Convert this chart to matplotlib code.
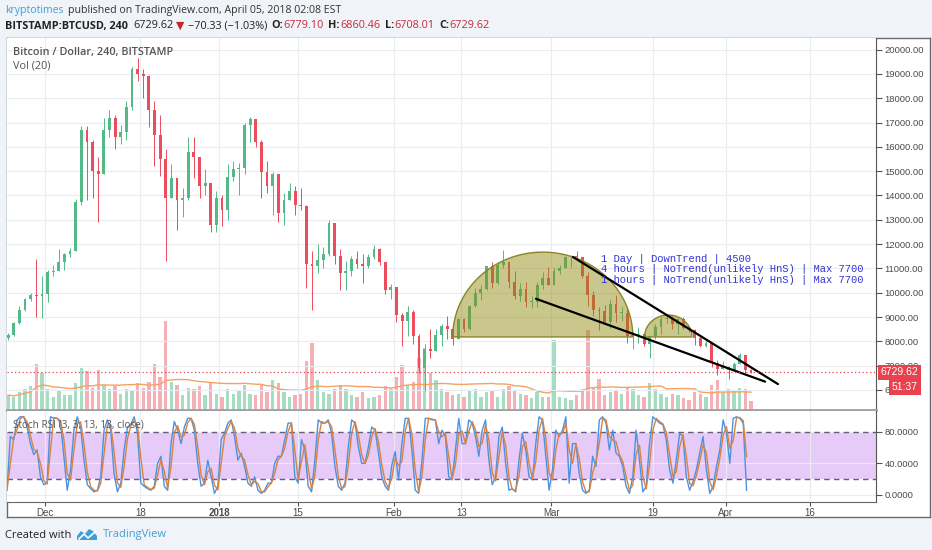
import numpy as np
import pandas as pd
import matplotlib
matplotlib.use('Agg')
import matplotlib.pyplot as plt
import matplotlib.transforms as mtrans
from matplotlib.patches import Polygon

W, H = 932, 550
BASE = pd.Timestamp('2018-01-01')


def days(s):
    return (pd.Timestamp(s) - BASE) / pd.Timedelta(days=1)


# ---- daily candles (drawn at midday), Nov 24 2017 .. Apr 5 2018 ----
dates = pd.date_range('2017-11-24 12:00', '2018-04-05 12:00', freq='D')
first_open = 8150
closes = [8250, 8750, 9300, 9750, 9900, 9850, 9950,
          10850, 10900, 11250, 11600, 11700, 13750, 16700, 16200, 15000, 14900,
          16700, 17200, 16400, 16600, 17650, 19200, 19000, 18900, 17500, 16500,
          15500, 13900, 14700, 13800, 13900, 15800, 15600, 14400, 14500, 12800, 13900,
          13400, 14750, 15100, 15150, 16900, 17150, 16200, 14950, 14400, 14900,
          13300, 13800, 14200, 13600, 13550, 11200, 11100, 11350, 11600, 12850,
          11500, 10800, 10900, 11400, 11200, 11100, 11450, 11800, 11250, 10100, 10250,
          9100, 8850, 9200, 8200, 6900, 7700, 7600, 8250, 8650, 8500,
          8100, 8900, 8500, 9450, 10000, 10150, 11100, 10400, 11150, 11250,
          10450, 9850, 10150, 9600, 9600, 10300, 10600, 10300,
          10900, 11000, 11450, 11500, 11450, 10700, 9900, 9300, 9250, 8800,
          9550, 9150, 9150, 8200, 8250, 8300, 7870, 8200, 8600, 8900,
          8900, 8700, 8900, 8550, 8450, 8150, 7800, 7950, 7100, 6850, 6930,
          6800, 7050, 7420, 6800, 6729.62]
highs = [8350, 8800, 9450, 9800, 10000, 11400, 10700,
         10950, 11150, 11800, 11650, 11850, 13850, 16850, 16850, 16300, 15600,
         17200, 17500, 17300, 16900, 17900, 19300, 19650, 19200, 18950, 17900,
         17300, 15900, 15300, 14700, 14300, 16400, 16400, 15600, 15100, 14500, 14200,
         14000, 15300, 15400, 15350, 17000, 17250, 17100, 16300, 15400, 14950,
         14900, 14100, 14500, 14400, 14300, 13600, 11700, 12000, 11900, 13000,
         12850, 11800, 11300, 11500, 11700, 11600, 11600, 11950, 11850, 11250, 10350,
         10250, 9150, 9450, 9300, 8300, 7900, 8500, 8500, 8700, 9050,
         8500, 8950, 8950, 9500, 10200, 10300, 11100, 11250, 11250, 11750,
         11300, 10900, 10400, 10450, 9850, 10450, 10850, 11050,
         11000, 11150, 11500, 11550, 11700, 11450, 10850, 10050, 9400, 9500,
         9700, 9900, 9450, 9350, 8400, 8600, 8350, 8250, 8700, 9000,
         9050, 9050, 8950, 9000, 8650, 8500, 8200, 8050, 7950, 7250, 7200,
         7000, 7150, 7500, 7420, 6860.46]
lows = [8050, 8200, 8700, 9250, 9650, 9000, 8950,
        9600, 10700, 10900, 10950, 11450, 11700, 13600, 13800, 13900, 12900,
        14900, 16400, 15900, 16100, 16300, 17500, 18700, 18000, 16800, 15200,
        14800, 11300, 13900, 12600, 13100, 13800, 14700, 13900, 14000, 12500, 12500,
        12750, 13000, 14600, 14000, 14900, 16200, 16000, 13900, 14100, 13200,
        12900, 12800, 13800, 13200, 13400, 10200, 9300, 10800, 11000, 11500,
        11200, 10100, 10100, 10700, 11000, 10400, 11000, 11400, 11150, 9950, 9750,
        8800, 7800, 8200, 7900, 6700, 5950, 7300, 7600, 7800, 8100,
        7850, 8100, 8400, 8450, 9400, 9700, 10100, 10200, 10350, 11000,
        10200, 9750, 9650, 9400, 9350, 9400, 10150, 10300,
        10300, 10750, 11000, 11050, 11400, 10600, 9450, 9050, 8450, 8750,
        8550, 8800, 8850, 7950, 7700, 7950, 7800, 7300, 8100, 8300,
        8750, 8500, 8300, 8500, 8400, 7850, 7750, 7750, 6950, 6600, 6850,
        6450, 6800, 7050, 6700, 6708.01]
volumes = [10, 9, 12, 14, 16, 31, 25,
           14, 9, 13, 10, 10, 18, 28, 26, 15, 27,
           17, 14, 16, 11, 14, 13, 18, 15, 19, 31,
           22, 60, 19, 17, 10, 15, 14, 16, 10, 18, 11,
           9, 14, 11, 13, 17, 11, 10, 17, 12, 20,
           18, 12, 9, 10, 11, 33, 45, 20, 12, 11,
           14, 17, 14, 10, 9, 12, 8, 9, 10, 16, 14,
           22, 30, 17, 19, 35, 42, 25, 20, 14, 12,
           10, 11, 9, 13, 14, 9, 12, 13, 9, 14,
           16, 13, 11, 10, 8, 12, 9, 9,
           47, 9, 8, 7, 10, 14, 54, 15, 21, 10,
           12, 13, 11, 15, 14, 10, 9, 18, 14, 11,
           9, 11, 10, 8, 7, 12, 11, 9, 17, 20, 12,
           14, 13, 15, 14, 6]

stoch_start, stoch_end = '2017-11-24 07:00', '2018-04-04 17:00'
stoch_k = [6, 74, 70, 95, 99, 99, 86, 65, 51, 57,
           23, 13, 15, 99, 97, 97, 91, 49, 6, 32,
           82, 99, 86, 44, 13, 8, 4, 6, 23, 82,
           95, 82, 27, 4, 15, 57, 86, 89, 99, 78,
           15, 11, 8, 6, 11, 40, 49, 11, 6, 65,
           93, 82, 65, 86, 97, 97, 82, 40, 11, 15,
           44, 23, 2, 11, 70, 78, 91, 95, 74, 44,
           53, 36, 15, 11, 23, 6, 2, 6, 15, 15,
           40, 49, 49, 70, 91, 91, 23, 15, 70, 57,
           11, 4, 44, 95, 91, 91, 95, 78, 36, 11,
           6, 15, 61, 95, 91, 61, 40, 40, 61, 86,
           82, 53, 23, 11, 6,
           38, 55, 19, 65, 97, 97, 57, 6, 2, 44,
           97, 97, 95, 95, 65, 82, 74, 23, 19, 57,
           97, 65, 65, 95, 91, 74, 49, 82, 95, 44,
           13, 23, 74, 86, 40, 6, 8, 4, 44, 78,
           57, 23, 19, 65, 99, 95, 49, 6, 32, 82,
           74, 82, 99, 15, 65, 65, 27, 6, 2, 6,
           49, 36, 95, 99, 91, 57, 82, 53, 49, 36,
           11, 2, 23, 82, 44, 4, 11, 65, 99, 95,
           91, 89, 70, 32, 15, 44, 78, 74, 23, 6,
           17, 32, 53, 74, 32, 2, 11, 36, 57, 95,
           78, 40, 97, 99, 97, 91, 6]

price_ticks = list(range(6000, 20001, 1000))
stoch_ticks = [0, 40, 80]
date_ticks = ['2017-12-01', '2017-12-18', '2018-01-01', '2018-01-15', '2018-02-01',
              '2018-02-13', '2018-03-01', '2018-03-19', '2018-04-01', '2018-04-16']
date_labels = ['Dec', '18', '2018', '15', 'Feb', '13', 'Mar', '19', 'Apr', '16']

last_price = 6729.62
countdown = '51:37'

# drawings on the chart: (start, end, base price, top price)
arcs = [('2018-02-11 12:00', '2018-03-15 12:00', 8180, 11670),
        ('2018-03-17 14:00', '2018-03-26 00:00', 8180, 9080)]
trend_lines = [(('2018-03-04 21:00', 11470), ('2018-04-10 07:00', 6240)),
               (('2018-02-26 07:00', 9750), ('2018-04-08 00:00', 6340))]
note_anchor = ('2018-03-09 22:00', 11390)
note_lines = ['1 Day | DownTrend | 4500',
              '4 hours | NoTrend(unlikely HnS) | Max 7700',
              '1 hours | NoTrend(unlikely HnS) | Max 7700']

GREEN = '#53b987'
RED = '#eb4d5c'
GRID = '#e9ecf1'
TXT = '#4a4a4a'

fig = plt.figure(figsize=(W / 100, H / 100), dpi=100, facecolor='#f0f3f7')


def box(x0, y0, x1, y1):
    return [x0 / W, 1 - y1 / H, (x1 - x0) / W, (y1 - y0) / H]


frame = fig.add_axes(box(7, 38, 930, 517))
frame.set_xticks([])
frame.set_yticks([])
for s in frame.spines.values():
    s.set_color('#6b6b6b')
    s.set_linewidth(1)

axv = fig.add_axes(box(7, 38, 876, 410))
ax = fig.add_axes(box(7, 38, 876, 410), sharex=axv)
ax2 = fig.add_axes(box(7, 411, 876, 502), sharex=axv)
ax.patch.set_visible(False)

x = ((dates - BASE) / pd.Timedelta(days=1)).values.astype(float)
opens = [first_open] + closes[:-1]
o = np.array(opens)
c = np.array(closes)
up = c >= o
cols = np.where(up, GREEN, RED)

# volume
vcols = np.where(up, '#a6dcc2', '#f5b0b5')
axv.bar(x, volumes, width=0.6, color=vcols, lw=0, zorder=2)
vma = pd.Series(volumes).rolling(20, min_periods=1).mean()
axv.plot(x, vma, color='#f5a35f', lw=1, zorder=3)
axv.set_ylim(0, 250)
axv.set_yticks([])
axv.tick_params(axis='x', length=0, labelbottom=False)
axv.grid(True, axis='x', color=GRID, lw=0.8)
for s in axv.spines.values():
    s.set_visible(False)

# candles
ax.vlines(x, lows, highs, colors=cols, lw=0.7, zorder=3)
ax.bar(x, np.maximum(np.abs(c - o), 40), bottom=np.minimum(o, c), width=0.5,
       color=cols, lw=0, zorder=4)

ax.set_xlim(days('2017-11-24 07:00'), days('2018-04-27 17:00'))
ax.set_ylim(5173, 20481)
ax.yaxis.tick_right()
ax.set_yticks(price_ticks)
ax.set_yticklabels([f'{p:.2f}' for p in price_ticks])
ax.tick_params(axis='y', length=4, color='#555555', labelsize=6.8, labelcolor=TXT, pad=2)
ax.tick_params(axis='x', length=0, labelbottom=False)
for lab in ax.get_yticklabels():
    lab.set_family('Liberation Sans')
ax.grid(True, axis='y', color=GRID, lw=0.8)
ax.set_axisbelow(True)
for side in ['top', 'left']:
    ax.spines[side].set_visible(False)
ax.spines['right'].set_color('#555555')
ax.spines['bottom'].set_color('#a0a0a0')
ax.spines['bottom'].set_linewidth(2)

# drawings
for a0, a1, base, top in arcs:
    xa, xb = days(a0), days(a1)
    th = np.linspace(0, np.pi, 80)
    pts = np.column_stack([(xa + xb) / 2 + (xb - xa) / 2 * np.cos(th),
                           base + (top - base) * np.sin(th)])
    ax.add_patch(Polygon(pts, closed=True, fc=(0.56, 0.54, 0.06, 0.48),
                         ec='#8a8626', lw=1, zorder=5))
for (s0, p0), (s1, p1) in trend_lines:
    ax.plot([days(s0), days(s1)], [p0, p1], color='black', lw=1.6, zorder=6,
            solid_capstyle='round')
for i, line in enumerate(note_lines):
    ax.annotate(line, xy=(days(note_anchor[0]), note_anchor[1]), xytext=(0, -10.5 * i),
                textcoords='offset pixels', fontsize=7.6, family='Liberation Mono',
                color='#3434d4', va='center', ha='left', zorder=7)

# last price line and badges
ax.axhline(last_price, color='#e8424f', ls=(0, (1, 2)), lw=0.9, zorder=6)
bt = mtrans.blended_transform_factory(ax.transAxes, ax.transData)
ax.text(1.0483, last_price, f'{last_price:.2f}', transform=bt, ha='right', va='center',
        fontsize=7.5, color='white', family='Liberation Sans', clip_on=False, zorder=10,
        bbox=dict(boxstyle='square,pad=0.25', fc='#e8424f', ec='none'))
ax.annotate(countdown, xy=(1.0483, last_price), xycoords=bt, xytext=(0, -15),
            textcoords='offset pixels', ha='right', va='center', fontsize=7.5,
            color='white', family='Liberation Sans', annotation_clip=False, zorder=10,
            bbox=dict(boxstyle='square,pad=0.25', fc='#e8424f', ec='none'))

ax.text(0.0069, 0.962, 'Bitcoin / Dollar, 240, BITSTAMP', transform=ax.transAxes,
        fontsize=7.8, color='#555555', fontweight='semibold', family='Open Sans', va='center')
ax.text(0.0069, 0.925, 'Vol (20)', transform=ax.transAxes, fontsize=7.8,
        color='#555555', family='Open Sans', va='center')

# stoch rsi pane
st = np.linspace(days(stoch_start), days(stoch_end), len(stoch_k))
stoch_d = pd.Series(stoch_k).rolling(2, min_periods=1).mean()
ax2.axhspan(20, 80, fc='#e6cbf8', ec='none', zorder=0.5)
ax2.axhline(80, color='#6a5a7e', ls=(0, (4, 3)), lw=1, zorder=2)
ax2.axhline(20, color='#6a5a7e', ls=(0, (4, 3)), lw=1, zorder=2)
ax2.plot(st, stoch_k, color='#4a93e0', lw=1, zorder=3)
ax2.plot(st, stoch_d, color='#d9823f', lw=1, zorder=4)
ax2.set_ylim(-8.9, 106.3)
ax2.yaxis.tick_right()
ax2.set_yticks(stoch_ticks)
ax2.set_yticklabels([f'{v:.4f}' for v in stoch_ticks])
ax2.tick_params(axis='y', length=4, color='#555555', labelsize=6.8, labelcolor=TXT, pad=2)
for lab in ax2.get_yticklabels():
    lab.set_family('Liberation Sans')
ax2.set_xticks([days(d) for d in date_ticks])
ax2.set_xticklabels(date_labels)
ax2.tick_params(axis='x', length=3, color='#555555', labelsize=7, labelcolor=TXT, pad=1)
for i, lab in enumerate(ax2.get_xticklabels()):
    lab.set_family('Liberation Sans')
    if date_labels[i] == '2018':
        lab.set_fontweight('bold')
ax2.grid(True, color=GRID, lw=0.8)
for side in ['top', 'left']:
    ax2.spines[side].set_visible(False)
ax2.spines['right'].set_color('#555555')
ax2.spines['bottom'].set_color('#666666')
ax2.text(0.0069, 0.846, 'Stoch RSI (3, 3, 13, 13, close)', transform=ax2.transAxes,
         fontsize=7.2, color='#555555', family='Open Sans', va='center', zorder=6)

# header and footer text
renderer = fig.canvas.get_renderer()


def write_row(parts, x0, yc, size):
    xp = x0
    for gap, s, color, weight in parts:
        xp += gap
        t = fig.text(xp / W, 1 - yc / H, s, color=color, fontsize=size, fontweight=weight,
                     family=['Open Sans', 'DejaVu Sans'], va='center', ha='left')
        xp = t.get_window_extent(renderer).x1
    return xp


VAL = '#c62a36'
write_row([(0, 'kryptotimes', '#3ea0d7', 'normal'),
           (4, 'published on TradingView.com, April 05, 2018 02:08 EST', '#333333', 'normal')],
          5, 10, 7.6)
write_row([(0, 'BITSTAMP:BTCUSD, 240', '#222222', 'bold'),
           (5, '6729.62', '#222222', 'normal'),
           (3, '▼', '#c62828', 'normal'),
           (3, '−70.33 (−1.03%)', '#222222', 'normal'),
           (4, 'O:', '#222222', 'bold'), (1, '6779.10', VAL, 'normal'),
           (4, 'H:', '#222222', 'bold'), (1, '6860.46', VAL, 'normal'),
           (4, 'L:', '#222222', 'bold'), (1, '6708.01', VAL, 'normal'),
           (4, 'C:', '#222222', 'bold'), (1, '6729.62', VAL, 'normal')],
          5, 26, 7.85)

fig.text(5 / W, 1 - 535 / H, 'Created with', fontsize=8, color='#222222',
         family='Open Sans', va='center')
logo = [(77, 540), (77, 536), (81, 531), (85, 534), (89, 529), (93, 531), (97, 536), (97, 540)]
fig.patches.append(Polygon([(px / W, 1 - py / H) for px, py in logo], closed=True,
                           fc='#3ea0d7', ec='none', transform=fig.transFigure, figure=fig))
zig = [(79, 539), (84, 534), (88, 538), (95, 532)]
fig.lines.append(plt.Line2D([p[0] / W for p in zig], [1 - p[1] / H for p in zig],
                            color='white', lw=1.2, transform=fig.transFigure, figure=fig))
fig.text(103 / W, 1 - 535 / H, 'TradingView', fontsize=8, color='#3ea0d7',
         family='Open Sans', va='center')

fig.savefig('out.png', dpi=100, facecolor=fig.get_facecolor())
